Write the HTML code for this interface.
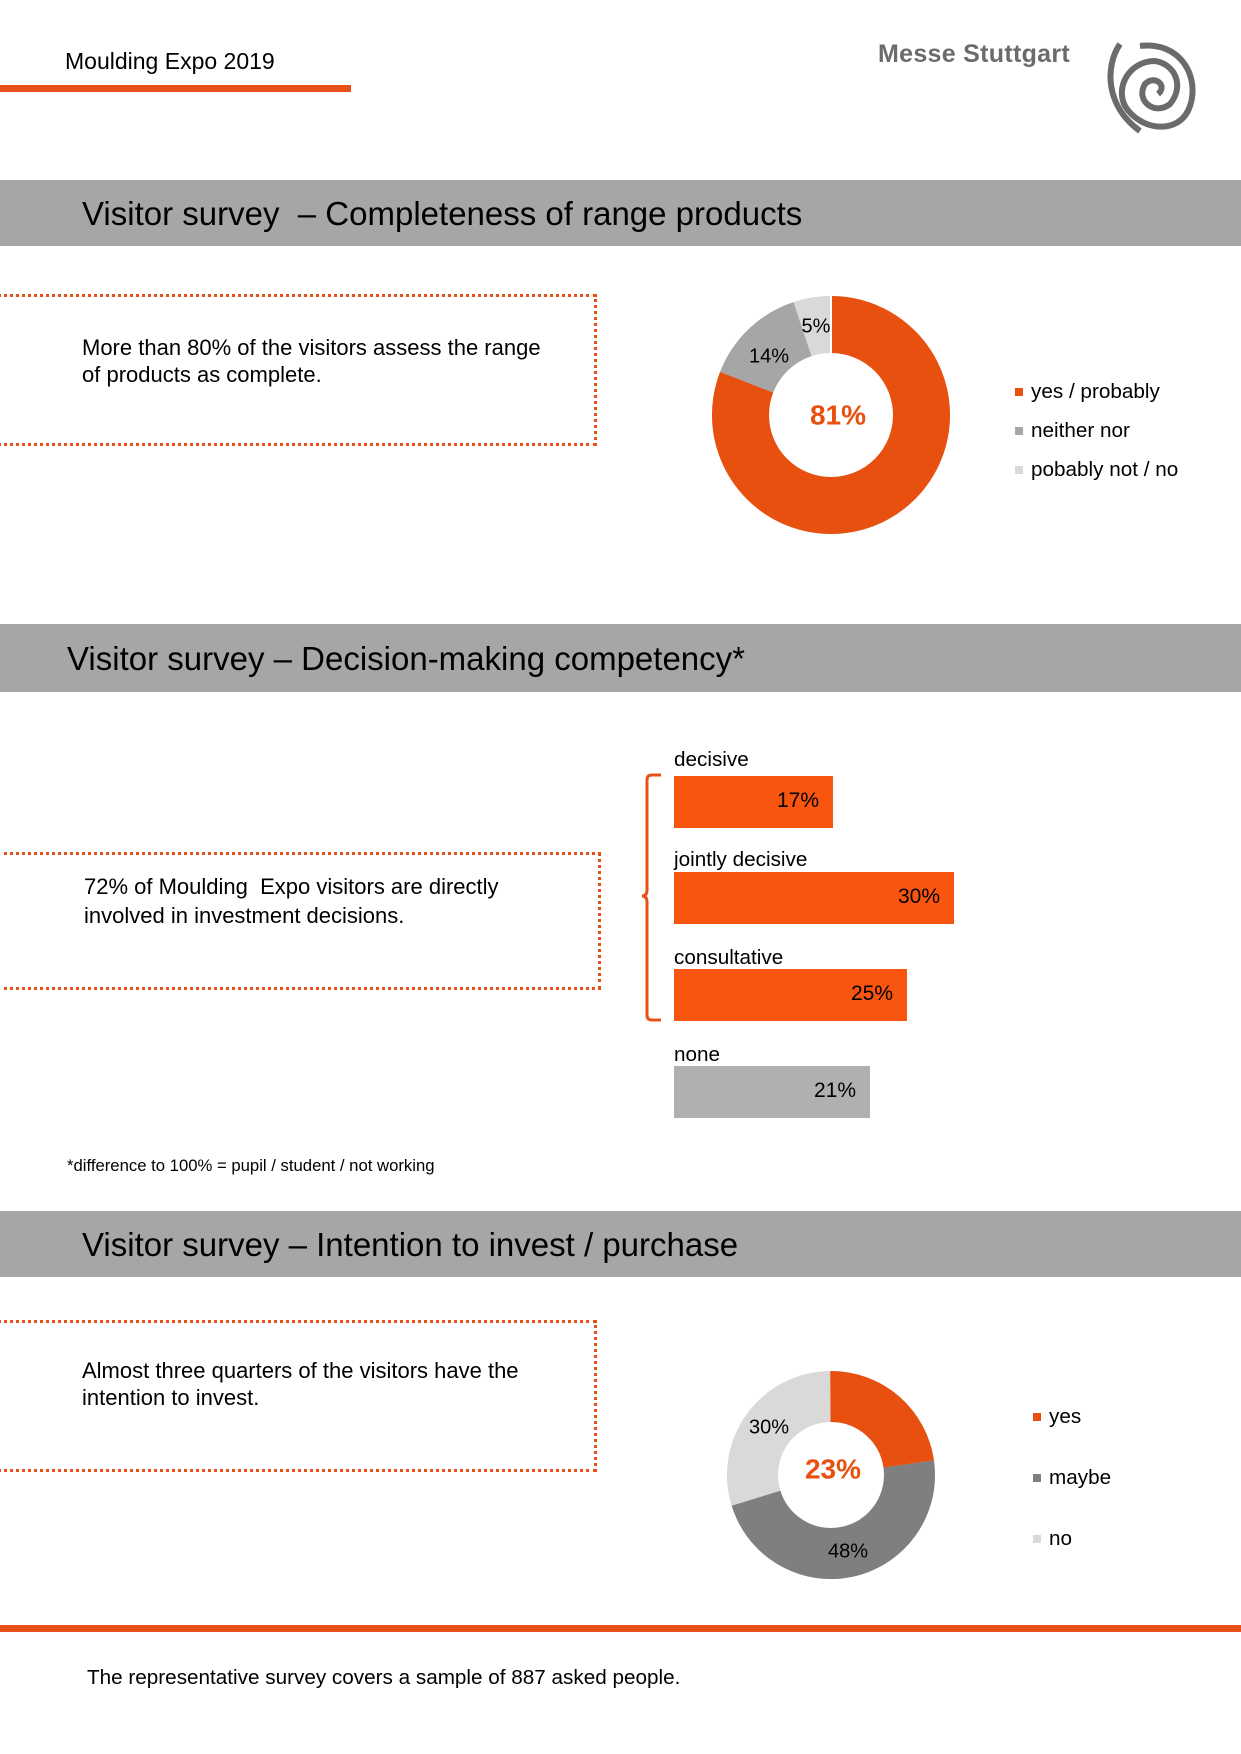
<!DOCTYPE html>
<html><head><meta charset="utf-8"><style>
body{margin:0;width:1241px;height:1754px;position:relative;background:#fff;font-family:"Liberation Sans",sans-serif;color:#000;overflow:hidden}
.a{position:absolute;white-space:nowrap}
.band{position:absolute;left:0;width:1241px;background:#a6a6a6}
.box{position:absolute;left:-3px;border:3px dotted #e8501a;border-left:none}
.bar{position:absolute;left:674px;height:52px;background:#f75510}
.bar span{position:absolute;right:14px;top:13px;font-size:21px}
.lbl{position:absolute;left:674px;font-size:20.7px}
.lg{position:absolute;font-size:20.7px}
.lg i{display:inline-block;width:8px;height:8px;margin-right:8px;vertical-align:2px}
</style></head><body>
<div class="a" style="left:65px;top:48px;font-size:23px">Moulding Expo 2019</div>
<div class="a" style="left:0;top:85px;width:351px;height:7px;background:#e8501a"></div>
<div class="a" style="left:878px;top:40px;font-size:25px;color:#6b6b6b;font-weight:bold;letter-spacing:0.3px">Messe Stuttgart</div>
<svg class="a" style="left:1100px;top:36px" width="105" height="104" viewBox="0 0 105 104" fill="none" stroke="#6b6b6b" stroke-width="6">
<path d="M20 8 C5 30 5 70 40 95 M40 10 C80 5 100 40 90 70 C80 100 40 95 25 70 C15 50 30 25 55 25 C75 28 85 50 70 68 C55 80 35 65 45 48 C55 38 68 50 58 58"/>
</svg>

<div class="band" style="top:180px;height:66px"></div>
<div class="a" style="left:82px;top:195px;font-size:33px">Visitor survey &nbsp;– Completeness of range products</div>
<div class="box" style="top:294px;width:597px;height:146px"></div>
<div class="a" style="left:82px;top:334px;font-size:22px;line-height:27px">More than 80% of the visitors assess the range<br>of products as complete.</div>
<svg class="a" style="left:700px;top:284px" width="262" height="262" viewBox="-131 -131 262 262">
<g transform="rotate(-90)">
<circle r="90.5" fill="none" stroke="#d9d9d9" stroke-width="57"/>
<circle r="90.5" fill="none" stroke="#e8500f" stroke-width="57" pathLength="100" stroke-dasharray="81 19"/>
<circle r="90.5" fill="none" stroke="#a6a6a6" stroke-width="57" pathLength="100" stroke-dasharray="14 86" stroke-dashoffset="-81"/>
</g>
<line x1="0" y1="-62" x2="0" y2="-119" stroke="#fff" stroke-width="2"/>
<text x="-62" y="-58" font-size="20" font-family="Liberation Sans" text-anchor="middle" dominant-baseline="middle">14%</text>
<text x="-15" y="-88" font-size="20" font-family="Liberation Sans" text-anchor="middle" dominant-baseline="middle">5%</text>
<text x="7" y="2" font-size="28" font-weight="bold" fill="#e8500f" font-family="Liberation Sans" text-anchor="middle" dominant-baseline="middle">81%</text>
</svg>
<div class="lg" style="left:1015px;top:380px"><i style="background:#e8500f"></i>yes / probably</div>
<div class="lg" style="left:1015px;top:419px"><i style="background:#a6a6a6"></i>neither nor</div>
<div class="lg" style="left:1015px;top:458px"><i style="background:#d9d9d9"></i>pobably not / no</div>

<div class="band" style="top:624px;height:68px"></div>
<div class="a" style="left:67px;top:640px;font-size:33px">Visitor survey – Decision-making competency*</div>
<div class="box" style="top:852px;width:601px;height:132px"></div>
<div class="a" style="left:84px;top:872px;font-size:22px;line-height:29px">72% of Moulding&nbsp; Expo visitors are directly<br>involved in investment decisions.</div>
<svg class="a" style="left:640px;top:770px" width="40" height="256"><path d="M21 5 H12 Q7 5 7 10 V120 Q7 126 2 126 Q7 126 7 132 V245 Q7 250 12 250 H21" fill="none" stroke="#e8501a" stroke-width="3"/></svg>
<div class="lbl" style="top:748px">decisive</div>
<div class="bar" style="top:776px;width:159px"><span>17%</span></div>
<div class="lbl" style="top:848px">jointly decisive</div>
<div class="bar" style="top:872px;width:280px"><span>30%</span></div>
<div class="lbl" style="top:946px">consultative</div>
<div class="bar" style="top:969px;width:233px"><span>25%</span></div>
<div class="lbl" style="top:1043px">none</div>
<div class="bar" style="top:1066px;width:196px;background:#b0b0b0"><span>21%</span></div>
<div class="a" style="left:67px;top:1156px;font-size:16.7px">*difference to 100% = pupil / student / not working</div>

<div class="band" style="top:1211px;height:66px"></div>
<div class="a" style="left:82px;top:1226px;font-size:33px">Visitor survey – Intention to invest / purchase</div>
<div class="box" style="top:1320px;width:597px;height:146px"></div>
<div class="a" style="left:82px;top:1357px;font-size:22px;line-height:27px">Almost three quarters of the visitors have the<br>intention to invest.</div>
<svg class="a" style="left:716px;top:1360px" width="230" height="230" viewBox="-115 -115 230 230">
<g transform="rotate(-90)">
<circle r="78.5" fill="none" stroke="#d9d9d9" stroke-width="51"/>
<circle r="78.5" fill="none" stroke="#e8500f" stroke-width="51" pathLength="101" stroke-dasharray="23 78"/>
<circle r="78.5" fill="none" stroke="#7f7f7f" stroke-width="51" pathLength="101" stroke-dasharray="48 53" stroke-dashoffset="-23"/>
</g>
<text x="-62" y="-47" font-size="20" font-family="Liberation Sans" text-anchor="middle" dominant-baseline="middle">30%</text>
<text x="17" y="77" font-size="20" font-family="Liberation Sans" text-anchor="middle" dominant-baseline="middle">48%</text>
<text x="2" y="-4" font-size="28" font-weight="bold" fill="#e8500f" font-family="Liberation Sans" text-anchor="middle" dominant-baseline="middle">23%</text>
</svg>
<div class="lg" style="left:1033px;top:1405px"><i style="background:#e8500f"></i>yes</div>
<div class="lg" style="left:1033px;top:1466px"><i style="background:#7f7f7f"></i>maybe</div>
<div class="lg" style="left:1033px;top:1527px"><i style="background:#d9d9d9"></i>no</div>

<div class="a" style="left:0;top:1625px;width:1241px;height:7px;background:#e8501a"></div>
<div class="a" style="left:87px;top:1666px;font-size:20.7px">The representative survey covers a sample of 887 asked people.</div>
</body></html>
